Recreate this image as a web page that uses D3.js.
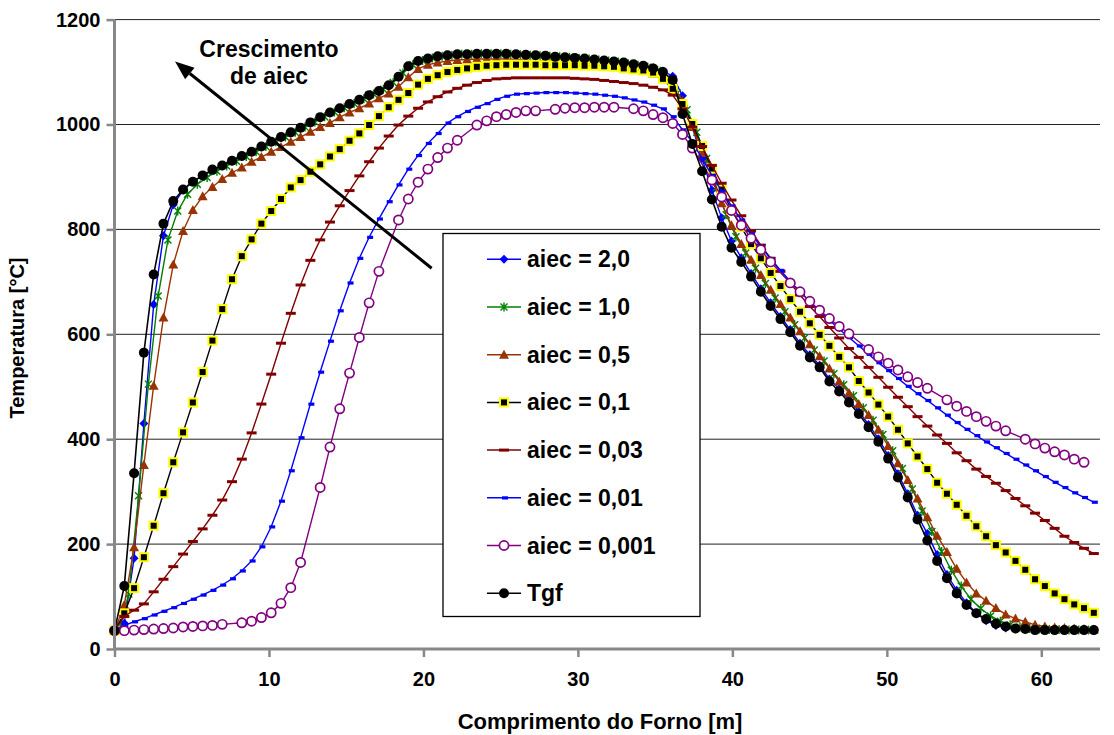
<!DOCTYPE html>
<html>
<head>
<meta charset="utf-8">
<script src="https://cdn.jsdelivr.net/npm/d3@7"></script>
<style>
  body { margin: 0; background: #fff; }
  text { font-family: "Liberation Sans", Arial, sans-serif; font-weight: bold; fill: #000; }
</style>
</head>
<body>
<div id="root"></div>
<script>
var config = {
  width: 1114,
  height: 735,
  left: 114.5,
  right: 1100,
  top: 19.6,
  bottom: 649
};

// node spacing along the kiln [m]
const stepM = 0.634;
const xMax = 63.8;
const xTicks = [0, 10, 20, 30, 40, 50, 60];
const yTicks = [0, 200, 400, 600, 800, 1000, 1200];

const seriesNames = ['aiec = 2,0', 'aiec = 1,0', 'aiec = 0,5', 'aiec = 0,1', 'aiec = 0,03', 'aiec = 0,01', 'aiec = 0,001', 'Tgf'];
// the aiec = 1,0 run is sampled with a small offset along the kiln [m]
const xOffsets = [0, 0.29, 0, 0, 0, 0, 0, 0];

const aiec20 = [35,49,173,430,657,788,847,875,891,902, 912,921,930,939,947,957,966,975,984,993,
  1003,1013,1022,1030,1038,1046,1055,1063,1074,1090, 1110,1120,1126,1130,1132,1134,1134,1135,1135,1135,
  1135,1134,1133,1132,1131,1129,1128,1127,1126,1124, 1122,1120,1118,1115,1112,1108,1102,1092,1055,995,
  935,875,822,778,746,716,687,660,634,609, 583,561,541,515,496,475,453,428,401,369,
  334,296,255,220,180,142,112,88,68,54, 45,40,38,37,36,36,36,36,36,36, 36];

const aiec10 = [38,105,292,505,673,780,835,867,886,899, 911,921,930,939,948,958,967,976,985,995,
  1005,1015,1024,1032,1040,1049,1058,1067,1080,1098, 1114,1122,1127,1130,1132,1134,1134,1135,1135,1135,
  1134,1133,1132,1131,1130,1129,1128,1126,1125,1123, 1121,1119,1116,1113,1109,1103,1085,1060,1028,985,
  935,880,828,786,755,726,697,669,643,618, 593,570,549,525,504,483,460,436,409,378,
  344,305,263,224,186,150,120,95,77,63, 53,46,42,39,38,37,37,36,36,36];

const aiec05 = [35,84,194,351,502,632,733,797,837,863, 881,896,908,918,929,938,948,957,967,976,
  986,995,1003,1014,1023,1031,1040,1050,1059,1072, 1090,1106,1114,1118,1121,1123,1124,1125,1125,1125,
  1125,1124,1123,1122,1121,1120,1119,1118,1117,1115, 1113,1111,1109,1106,1102,1097,1090,1076,1045,995,
  945,895,850,808,772,742,713,685,658,632, 606,581,558,535,510,488,467,446,418,387,
  354,322,287,251,216,185,153,127,106,92, 78,66,58,52,46,43,41,40,39,38, 37];

const aiec01 = [35,68,116,175,235,297,356,413,470,528, 588,648,705,749,781,811,835,858,880,894,
  910,924,939,953,969,983,999,1016,1033,1047, 1060,1076,1087,1094,1100,1104,1107,1110,1112,1113,
  1114,1114,1114,1114,1113,1113,1113,1113,1112,1112, 1111,1110,1107,1105,1103,1099,1087,1068,1039,1001,
  959,916,876,837,805,772,745,717,692,667, 643,621,599,578,557,537,511,489,466,443,
  418,392,367,343,317,296,275,254,234,215, 198,184,168,151,133,120,106,95,85,78, 69];

const aiec003 = [35,62,74,86,109,133,157,181,205,229, 255,284,319,362,412,467,524,583,640,694,
  741,780,814,845,874,902,929,955,978,999, 1016,1031,1043,1053,1062,1069,1075,1080,1084,1087,
  1088,1089,1089,1089,1089,1089,1089,1088,1087,1086, 1084,1082,1080,1078,1075,1071,1066,1056,1030,995,
  958,922,888,856,826,797,770,745,720,697, 675,653,634,613,593,573,556,537,518,499,
  480,462,443,425,408,392,374,359,343,329, 316,302,287,273,259,245,230,215,203,192, 182];

const aiec001 = [35,45,52,58,65,72,79,87,95,103, 112,122,134,149,168,195,233,282,340,403,
  467,528,587,645,698,745,785,820,853,885, 915,941,964,983,1003,1015,1025,1033,1040,1048,
  1054,1058,1059,1060,1061,1061,1061,1060,1059,1058, 1056,1054,1051,1047,1043,1037,1030,1015,990,967,
  935,903,873,845,818,792,767,744,722,701, 681,662,644,627,610,594,578,562,546,531,
  516,501,487,474,460,446,432,419,407,395, 384,373,362,351,340,329,318,308,298,289, 280];

// null = node not written in this run
const aiec0001 = [35,35,36,37,38,39,40,42,43,44, 45,47,null,50,53,60,69,87,117,165,
  null,308,385,458,526,594,660,720,null,818, 858,890,915,937,955,970,null,999,1007,1015,
  1019,1023,1026,1026,null,1029,1031,1032,1032,1033, 1033,1033,null,1030,1026,1019,1013,1002,981,955,
  null,894,862,836,808,783,761,738,null,698, 681,663,646,630,615,601,null,571,557,545,
  532,519,508,497,null,475,463,453,443,434, 425,416,null,400,391,383,376,370,362,356, null];

const tgf = [35,120,335,565,714,811,854,876,891,903, 914,922,931,940,948,958,967,976,985,994,
  1004,1014,1023,1031,1039,1047,1056,1064,1075,1091, 1111,1121,1126,1130,1132,1134,1134,1135,1135,1135,
  1135,1134,1133,1132,1131,1129,1128,1127,1126,1124, 1122,1120,1118,1115,1112,1107,1100,1085,1020,963,
  911,857,805,765,738,710,681,654,629,604, 578,556,537,510,491,470,448,423,395,363,
  327,289,247,207,168,135,106,84,68,57, 48,43,39,38,36,36,36,36,36,36, 36];

const seriesValues = [aiec20, aiec10, aiec05, aiec01, aiec003, aiec001, aiec0001, tgf];

// look of each series (line colour, marker)
const styles = [
  { color: '#0000ff', marker: 'diamond' },
  { color: '#008000', marker: 'star' },
  { color: '#993300', marker: 'triangle' },
  { color: '#000000', marker: 'square' },
  { color: '#800000', marker: 'dash' },
  { color: '#0000ff', marker: 'shortdash' },
  { color: '#800080', marker: 'circle' },
  { color: '#000000', marker: 'dot' }
];

const x = d3.scaleLinear().domain([0, xMax]).range([config.left, config.right]);
const y = d3.scaleLinear().domain([0, 1200]).range([config.bottom, config.top]);

const chart = d3.select('#root')
  .append('svg:svg')
  .attr('width', config.width)
  .attr('height', config.height);

function drawMarker(g, type, color) {
  if (type === 'diamond') {
    g.append('path').attr('d', 'M0,-4.5L4.5,0L0,4.5L-4.5,0Z').attr('fill', color);
  } else if (type === 'star') {
    g.append('path').attr('d', 'M-3.5,-3.5L3.5,3.5M-3.5,3.5L3.5,-3.5M0,-4.5L0,4.5')
      .attr('stroke', color).attr('stroke-width', 1.4).attr('fill', 'none');
  } else if (type === 'triangle') {
    g.append('path').attr('d', 'M0,-5L5,4L-5,4Z').attr('fill', color);
  } else if (type === 'square') {
    g.append('rect').attr('x', -4).attr('y', -4).attr('width', 8).attr('height', 8)
      .attr('fill', '#000').attr('stroke', '#ffff00').attr('stroke-width', 2);
  } else if (type === 'dash') {
    g.append('rect').attr('x', -5).attr('y', -1.5).attr('width', 10).attr('height', 3).attr('fill', color);
  } else if (type === 'shortdash') {
    g.append('rect').attr('x', -2).attr('y', -1.5).attr('width', 6).attr('height', 3.2).attr('fill', color);
  } else if (type === 'circle') {
    g.append('circle').attr('r', 4.6).attr('fill', '#fff')
      .attr('stroke', color).attr('stroke-width', 1.7);
  } else if (type === 'dot') {
    g.append('circle').attr('r', 5).attr('fill', color);
  }
}

////// GRID //////
const grid = chart.append('svg:g');
grid.selectAll('line')
  .data(yTicks.filter(t => t > 0))
  .enter()
    .append('svg:line')
    .attr('x1', config.left)
    .attr('x2', config.right)
    .attr('y1', d => y(d))
    .attr('y2', d => y(d))
    .attr('stroke', '#222')
    .attr('stroke-width', 1);

////// SERIES //////
const line = d3.line().x(d => x(d.x)).y(d => y(d.v));

seriesValues.forEach((values, i) => {
  const pts = values
    .map((v, k) => ({ x: k * stepM + xOffsets[i], v: v }))
    .filter(d => d.v !== null);
  const st = styles[i];
  const g = chart.append('svg:g');
  g.append('svg:path')
    .attr('d', line(pts))
    .attr('fill', 'none')
    .attr('stroke', st.color)
    .attr('stroke-width', i === 7 ? 1.6 : 1.4);
  g.selectAll('.m')
    .data(pts)
    .enter()
      .append('svg:g')
      .attr('transform', d => `translate(${x(d.x)},${y(d.v)})`)
      .each(function () { drawMarker(d3.select(this), st.marker, st.color); });
});

////// AXES //////
const yAxis = d3.axisLeft(y).tickValues(yTicks).tickFormat(d3.format('d')).tickSize(8).tickPadding(6);
const xAxis = d3.axisBottom(x).tickValues(xTicks).tickFormat(d3.format('d')).tickSize(8).tickPadding(15);

const gy = chart.append('svg:g')
  .attr('transform', `translate(${config.left},0)`)
  .call(yAxis);
const gx = chart.append('svg:g')
  .attr('transform', `translate(0,${config.bottom})`)
  .call(xAxis);

[gx, gy].forEach(g => {
  g.select('.domain').attr('stroke', '#888').attr('stroke-width', 3);
  g.selectAll('.tick line').attr('stroke', '#888').attr('stroke-width', 2.5);
  g.selectAll('.tick text').style('font-size', '20px').style('font-weight', 'bold')
    .style('font-family', '"Liberation Sans", Arial, sans-serif').attr('fill', '#000');
});
gy.select('.domain').attr('d', `M0,${config.bottom + 1}V${config.top}`);
gx.select('.domain').attr('d', `M${config.left},0H${config.right}`);

chart.append('svg:text')
  .attr('transform', `translate(24,338) rotate(-90)`)
  .attr('text-anchor', 'middle')
  .style('font-size', '20px')
  .text('Temperatura [°C]');

chart.append('svg:text')
  .attr('x', 600)
  .attr('y', 729)
  .attr('text-anchor', 'middle')
  .style('font-size', '22px')
  .text('Comprimento do Forno [m]');

////// ANNOTATION //////
const tail = [x(20.53), y(726)];
const tip = [x(3.92), y(1120)];
const ang = Math.atan2(tip[1] - tail[1], tip[0] - tail[0]);
const headLen = 19, headHalf = 7.5;
const base = [tip[0] - headLen * Math.cos(ang), tip[1] - headLen * Math.sin(ang)];
chart.append('svg:line')
  .attr('x1', tail[0]).attr('y1', tail[1])
  .attr('x2', base[0]).attr('y2', base[1])
  .attr('stroke', '#000').attr('stroke-width', 3);
chart.append('svg:path')
  .attr('d', `M${tip[0]},${tip[1]}` +
    `L${base[0] + headHalf * Math.sin(ang)},${base[1] - headHalf * Math.cos(ang)}` +
    `L${base[0] - headHalf * Math.sin(ang)},${base[1] + headHalf * Math.cos(ang)}Z`)
  .attr('fill', '#000');

chart.append('svg:text').attr('x', 269).attr('y', 57).attr('text-anchor', 'middle')
  .style('font-size', '23px').text('Crescimento');
chart.append('svg:text').attr('x', 269).attr('y', 84).attr('text-anchor', 'middle')
  .style('font-size', '23px').text('de aiec');

////// LEGEND //////
const legend = chart.append('svg:g');
legend.append('svg:rect')
  .attr('x', 443).attr('y', 233.5).attr('width', 257).attr('height', 383)
  .attr('fill', '#fff').attr('stroke', '#000').attr('stroke-width', 1.3);

const rows = legend.selectAll('.row')
  .data(seriesNames)
  .enter()
    .append('svg:g')
    .attr('transform', (d, i) => `translate(0,${259.3 + i * 47.7})`);
rows.append('svg:line')
  .attr('x1', 487).attr('x2', 521)
  .attr('stroke', (d, i) => styles[i].color)
  .attr('stroke-width', 1.5);
rows.append('svg:g')
  .attr('transform', 'translate(504,0)')
  .each(function (d, i) { drawMarker(d3.select(this), styles[i].marker, styles[i].color); });
rows.append('svg:text')
  .attr('x', 527).attr('y', 8)
  .style('font-size', '23px')
  .text(d => d);
</script>
</body>
</html>
